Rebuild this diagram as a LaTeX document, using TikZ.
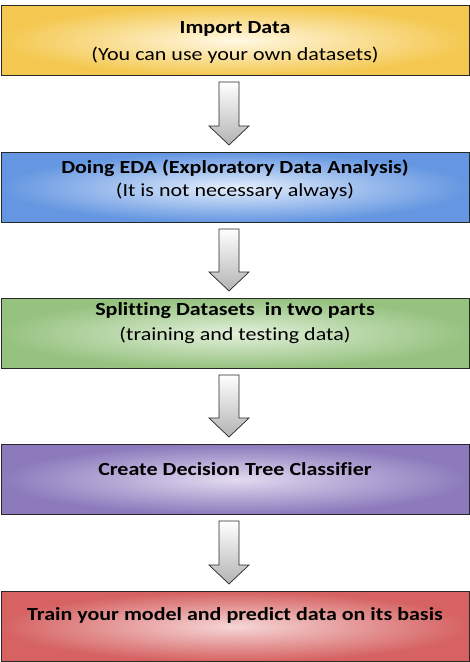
\documentclass[tikz,border=0pt]{standalone}
\usepackage{fontspec}
\setmainfont{Carlito}[Ligatures=NoCommon]
\usetikzlibrary{calc}
\definecolor{yEdge}{RGB}{244,200,80}
\definecolor{yMid}{RGB}{255,248,228}
\definecolor{bEdge}{RGB}{100,150,225}
\definecolor{bMid}{RGB}{228,238,252}
\definecolor{gEdge}{RGB}{150,194,128}
\definecolor{gMid}{RGB}{226,240,218}
\definecolor{pEdge}{RGB}{140,122,188}
\definecolor{pMid}{RGB}{226,218,240}
\definecolor{rEdge}{RGB}{214,98,98}
\definecolor{rMid}{RGB}{246,214,214}
\definecolor{bord}{RGB}{40,40,40}
\newcommand{\wide}[1]{\scalebox{1.19}[1]{#1}}
\tikzset{
  stepbox/.style={draw=bord, line width=0.9pt, minimum width=468pt, minimum height=70pt, anchor=north, inner sep=0pt},
  ttl/.style={font=\fontsize{18.5}{22}\selectfont\bfseries},
  sub/.style={font=\fontsize{18.5}{22}\selectfont},
  flowarrow/.style={draw=bord, line width=0.7pt, top color=white, bottom color=black!30, line join=miter}
}
\newcommand{\flowarr}[2]{%
  \path[flowarrow] ($(#1.south)+(-16,6)$) -- ($(#1.south)+(4,6)$) -- ($(#2.north)+(4,-26)$) -- ($(#2.north)+(14,-26)$) -- ($(#2.north)+(-6,-7)$) -- ($(#2.north)+(-26,-26)$) -- ($(#2.north)+(-16,-26)$) -- cycle;}
\begin{document}
\begin{tikzpicture}[x=1pt,y=-1pt]
\useasboundingbox (0,0) rectangle (470,662);
\node[stepbox, inner color=yMid, outer color=yEdge] (b1) at (235,5) {};
\node[stepbox, inner color=bMid, outer color=bEdge] (b2) at (235,152) {};
\node[stepbox, inner color=gMid, outer color=gEdge] (b3) at (235,298) {};
\node[stepbox, inner color=pMid, outer color=pEdge] (b4) at (235,444) {};
\node[stepbox, inner color=rMid, outer color=rEdge] (b5) at (235,591) {};
\node[ttl] (t1) at (235,29) {\wide{Import Data}};
\node[sub] (s1) at (235,55) {\wide{(You can use your own datasets)}};
\node[ttl] (t2) at (235,168) {\wide{Doing EDA (Exploratory Data Analysis)}};
\node[sub] (s2) at (235,191) {\wide{(It is not necessary always)}};
\node[ttl] (t3) at (235,311) {\wide{Splitting Datasets\ \ in two parts}};
\node[sub] (s3) at (235,335) {\wide{(training and testing data)}};
\node[ttl] (t4) at (235,469) {\wide{Create Decision Tree Classifier}};
\node[ttl] (t5) at (235,615) {\wide{Train your model and predict data on its basis}};
\flowarr{b1}{b2}
\flowarr{b2}{b3}
\flowarr{b3}{b4}
\flowarr{b4}{b5}
\end{tikzpicture}
\end{document}
